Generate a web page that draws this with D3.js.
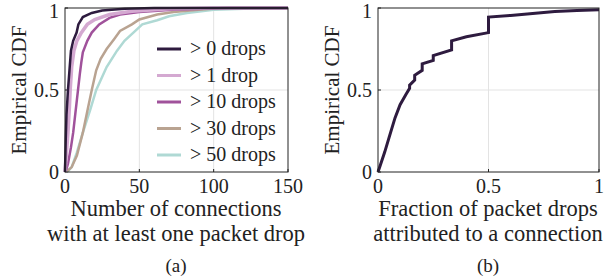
<!DOCTYPE html>
<html>
<head>
<meta charset="utf-8">
<script src="https://cdn.jsdelivr.net/npm/d3@7"></script>
<style>
  body { margin: 0; background: #fff; }
  text { font-family: "Liberation Serif", "DejaVu Serif", serif; fill: #222; }
</style>
</head>
<body>
<svg id="chart" width="613" height="278"></svg>
<script>
// ---- data ----
const seriesNames = ["> 0 drops", "> 1 drop", "> 10 drops", "> 30 drops", "> 50 drops"];
const seriesColors = ["#2e1b3f", "#d4a9d1", "#a0529b", "#b9a391", "#afd9d4"];

// [connections, cdf]
const drops0 = [[0,0],[0.5,0.2],[1,0.35],[2,0.5],[3,0.62],[4,0.74],[5.5,0.8],[7.8,0.85],[9,0.9],[12,0.945],[18,0.97],[25,0.985],[40,0.995],[60,1],[150,1]];
const drops1 = [[0,0],[1,0.12],[2,0.24],[3,0.4],[3.5,0.5],[4.5,0.64],[6,0.74],[8,0.8],[11,0.85],[15,0.9],[20,0.93],[30,0.96],[45,0.98],[70,0.995],[100,1],[150,1]];
const drops10 = [[0,0],[1,0.02],[2,0.05],[4,0.15],[5.5,0.24],[7,0.36],[8,0.44],[9,0.52],[10,0.6],[11,0.67],[12,0.73],[15,0.8],[18,0.85],[23,0.9],[30,0.94],[37,0.96],[50,0.975],[72,0.99],[110,1],[150,1]];
const drops30 = [[0,0],[2,0.01],[4.5,0.03],[8,0.1],[12,0.24],[15,0.37],[18,0.5],[21,0.62],[24,0.69],[28,0.75],[33,0.81],[37,0.86],[45,0.9],[50,0.93],[62,0.96],[73,0.975],[90,0.99],[105,1],[150,1]];
const drops50 = [[0,0],[2,0.005],[4.5,0.03],[8,0.12],[12,0.24],[17,0.38],[21,0.5],[28,0.64],[35,0.74],[40,0.8],[46,0.85],[52,0.9],[62,0.925],[70,0.95],[82,0.97],[100,0.99],[125,0.997],[150,1]];
const leftSeries = [drops0, drops1, drops10, drops30, drops50];

// [fraction, cdf]
const fractionCdf = [[0,0],[0.01,0.04],[0.03,0.12],[0.05,0.21],[0.077,0.33],[0.1,0.41],[0.125,0.47],[0.143,0.51],[0.143,0.53],[0.166,0.56],[0.166,0.59],[0.2,0.62],[0.2,0.66],[0.25,0.68],[0.25,0.71],[0.333,0.745],[0.333,0.80],[0.4,0.825],[0.5,0.85],[0.5,0.945],[0.6,0.955],[0.7,0.966],[0.8,0.978],[0.9,0.985],[1,0.99]];

const leftXTicks = [0, 50, 100, 150];
const rightXTicks = [0, 0.5, 1];
const yTicks = [0, 0.5, 1];
const yTickLabels = ["0", "0.5", "1"];

const svg = d3.select("#chart");

function panel(x0, x1, xDomain, xTicks, xLabel, labelX, caption) {
  const x = d3.scaleLinear().domain(xDomain).range([x0, x1]);
  const y = d3.scaleLinear().domain([0, 1]).range([172, 8]);
  const g = svg.append("g");

  // grid
  g.selectAll(".gx").data(xTicks.slice(1, -1)).enter().append("line")
    .attr("x1", d => x(d)).attr("x2", d => x(d))
    .attr("y1", y(0)).attr("y2", y(1))
    .attr("stroke", "#e3e3e3").attr("stroke-width", 1);
  g.append("line")
    .attr("x1", x0).attr("x2", x1)
    .attr("y1", y(0.5)).attr("y2", y(0.5))
    .attr("stroke", "#e3e3e3").attr("stroke-width", 1);

  // ticks inward
  g.selectAll(".tx").data(xTicks).enter().append("line")
    .attr("x1", d => x(d)).attr("x2", d => x(d))
    .attr("y1", y(0)).attr("y2", y(0) - 3)
    .attr("stroke", "#222");
  g.selectAll(".ty").data(yTicks).enter().append("line")
    .attr("x1", x0).attr("x2", x0 + 3)
    .attr("y1", d => y(d)).attr("y2", d => y(d))
    .attr("stroke", "#222");

  g.selectAll(".lx").data(xTicks).enter().append("text")
    .attr("x", d => x(d)).attr("y", 193)
    .attr("text-anchor", "middle").attr("font-size", 20)
    .text(d => d);
  g.selectAll(".ly").data(yTicks).enter().append("text")
    .attr("x", x0 - 6).attr("y", d => Math.max(y(d) + 7, 18))
    .attr("text-anchor", "end").attr("font-size", 20)
    .text((d, i) => yTickLabels[i]);

  g.append("text")
    .attr("transform", "translate(" + (x0 - 39) + "," + y(0.5) + ") rotate(-90)")
    .attr("text-anchor", "middle").attr("font-size", 21)
    .text("Empirical CDF");

  g.append("text").attr("x", labelX).attr("y", 216).attr("text-anchor", "middle")
    .attr("font-size", 22.5).text(xLabel[0]);
  g.append("text").attr("x", labelX).attr("y", 241).attr("text-anchor", "middle")
    .attr("font-size", 22.5).text(xLabel[1]);
  g.append("text").attr("x", labelX).attr("y", 272).attr("text-anchor", "middle")
    .attr("font-size", 19).text(caption);

  return { g, x, y };
}

// ---- left panel ----
const left = panel(65, 288, [0, 150], leftXTicks,
  ["Number of connections", "with at least one packet drop"], 176, "(a)");

const leg = left.g.append("g");
seriesNames.forEach((name, i) => {
  const ly = 49 + i * 26.5;
  leg.append("line").attr("x1", 157).attr("x2", 181).attr("y1", ly).attr("y2", ly)
    .attr("stroke", seriesColors[i]).attr("stroke-width", 3);
  leg.append("text").attr("x", 190).attr("y", ly + 6).attr("font-size", 20).text(name);
});

const lineL = d3.line().x(d => left.x(d[0])).y(d => left.y(d[1]));
for (let i = leftSeries.length - 1; i >= 0; i--) {
  left.g.append("path").datum(leftSeries[i])
    .attr("d", lineL)
    .attr("fill", "none").attr("stroke", seriesColors[i])
    .attr("stroke-width", i === 1 ? 3.5 : 2.5);
}

left.g.append("rect").attr("x", 65).attr("y", 8).attr("width", 223).attr("height", 164)
  .attr("fill", "none").attr("stroke", "#222").attr("stroke-width", 1);

// ---- right panel ----
const right = panel(378, 599, [0, 1], rightXTicks,
  ["Fraction of packet drops", "attributed to a connection"], 488, "(b)");

const lineR = d3.line().x(d => right.x(d[0])).y(d => right.y(d[1]));
right.g.append("path").datum(fractionCdf)
  .attr("d", lineR)
  .attr("fill", "none").attr("stroke", seriesColors[0]).attr("stroke-width", 3);

right.g.append("rect").attr("x", 378).attr("y", 8).attr("width", 221).attr("height", 164)
  .attr("fill", "none").attr("stroke", "#222").attr("stroke-width", 1);
</script>
</body>
</html>
